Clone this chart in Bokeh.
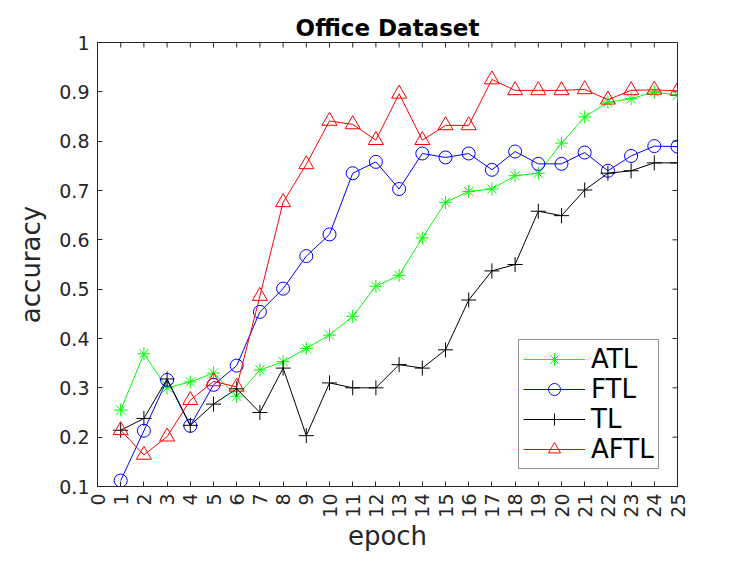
import math
from bokeh.plotting import figure
from bokeh.models import FixedTicker, Legend, LegendItem, Range1d
from bokeh.embed import file_html
from bokeh.resources import INLINE

epochs = list(range(1, 26))
atl = [0.255, 0.369, 0.300, 0.312, 0.330, 0.283, 0.336, 0.353, 0.380, 0.407,
       0.445, 0.506, 0.528, 0.604, 0.676, 0.698, 0.703, 0.730, 0.735, 0.796,
       0.849, 0.879, 0.886, 0.900, 0.893]
ftl = [0.112, 0.213, 0.316, 0.223, 0.306, 0.345, 0.454, 0.501, 0.567, 0.611,
       0.735, 0.758, 0.703, 0.775, 0.767, 0.775, 0.742, 0.779, 0.754, 0.754,
       0.777, 0.740, 0.770, 0.790, 0.789]
tl = [0.214, 0.238, 0.318, 0.224, 0.267, 0.298, 0.250, 0.340, 0.203, 0.310,
      0.300, 0.300, 0.347, 0.340, 0.377, 0.478, 0.537, 0.550, 0.658, 0.649,
      0.701, 0.735, 0.740, 0.756, 0.756]
aftl = [0.214, 0.164, 0.201, 0.275, 0.313, 0.302, 0.486, 0.676, 0.753, 0.841,
        0.834, 0.802, 0.896, 0.802, 0.832, 0.832, 0.925, 0.903, 0.903, 0.903,
        0.905, 0.884, 0.903, 0.904, 0.902]

x_ticks = list(range(0, 26))
y_ticks = [0.1, 0.2, 0.3, 0.4, 0.5, 0.6, 0.7, 0.8, 0.9, 1.0]
y_tick_labels = ["0.1", "0.2", "0.3", "0.4", "0.5", "0.6", "0.7", "0.8", "0.9", "1"]
x_min, x_max = 0, 25
y_min, y_max = 0.1, 1.0

FONT = "DejaVu Sans"
AX = "#262626"

p = figure(width=739, height=553, output_backend="svg", toolbar_location=None,
           x_range=Range1d(x_min, x_max), y_range=Range1d(y_min, y_max),
           min_border_left=97, min_border_right=62, min_border_top=42,
           min_border_bottom=65, title="Office Dataset")
p.title.align = "center"
p.title.text_font = FONT
p.title.text_font_size = "23px"
p.title.text_font_style = "bold"
p.title.text_color = "black"
p.title.standoff = 4
p.grid.visible = False
p.outline_line_color = AX
p.background_fill_color = "white"
p.border_fill_color = "white"

xa = p.xaxis[0]
ya = p.yaxis[0]
xa.ticker = FixedTicker(ticks=x_ticks)
ya.ticker = FixedTicker(ticks=y_ticks)
ya.major_label_overrides = {t: s for t, s in zip(y_ticks, y_tick_labels)}
for ax in (xa, ya):
    ax.axis_line_color = AX
    ax.major_tick_line_color = AX
    ax.major_tick_in = 5
    ax.major_tick_out = 0
    ax.minor_tick_line_color = None
    ax.major_label_text_font = FONT
    ax.major_label_text_color = AX
    ax.major_label_text_font_size = "19px"
    ax.major_label_standoff = 8
    ax.axis_label_text_font = FONT
    ax.axis_label_text_font_size = "26px"
    ax.axis_label_text_font_style = "normal"
    ax.axis_label_text_color = AX
xa.major_label_standoff = 7
xa.major_label_orientation = math.pi / 2
xa.axis_label = "epoch"
ya.axis_label = "accuracy"
xa.axis_label_standoff = 0
ya.axis_label_standoff = 10

# inward tick marks on the top and right edges of the box
p.scatter(x_ticks, [y_max] * len(x_ticks), marker="dash", size=10, angle=math.pi / 2,
          line_color=AX, line_width=1)
p.scatter([x_max] * len(y_ticks), y_ticks, marker="dash", size=10, angle=0,
          line_color=AX, line_width=1)

series = [
    ("ATL", atl, "#00ff00", "asterisk", 13),
    ("FTL", ftl, "#0000ff", "circle", 13),
    ("TL", tl, "black", "cross", 15),
    ("AFTL", aftl, "#ff0000", "triangle", 15),
]
items = []
for name, vals, col, mk, sz in series:
    l = p.line(epochs, vals, line_color=col, line_width=1)
    s = p.scatter(epochs, vals, marker=mk, size=sz, line_color=col,
                  fill_color=None, line_width=1)
    items.append(LegendItem(label=name, renderers=[l, s]))

leg = Legend(items=items, location=(421, 17))
leg.label_text_font = FONT
leg.label_text_font_size = "26px"
leg.label_text_color = "black"
leg.border_line_color = AX
leg.border_line_width = 1
leg.background_fill_color = "white"
leg.background_fill_alpha = 1
leg.padding = 4
leg.spacing = 0
leg.margin = 0
leg.glyph_width = 62
leg.glyph_height = 30
leg.label_height = 30
leg.label_standoff = 6
p.add_layout(leg, "center")

open("out.html", "w").write(file_html(p, INLINE))
